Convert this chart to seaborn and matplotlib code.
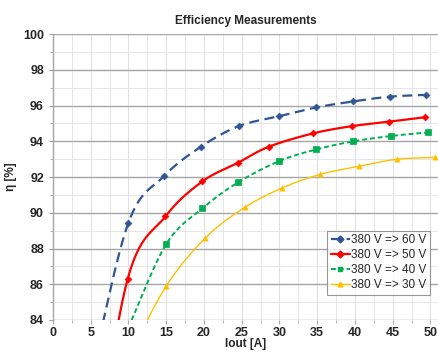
import numpy as np
import pandas as pd
import matplotlib
matplotlib.use("Agg")
import matplotlib.pyplot as plt
from matplotlib.lines import Line2D
from matplotlib.ticker import MultipleLocator
import seaborn as sns

# -------------------------------
# Data
# -------------------------------
iout_60 = [5.0, 10.0, 14.7, 19.6, 24.6, 29.9, 34.9, 39.7, 44.6, 49.4]
eta_60 = [80.9, 89.45, 92.05, 93.7, 94.85, 95.4, 95.9, 96.23, 96.5, 96.6]

iout_50 = [5.0, 9.9, 14.9, 19.8, 24.5, 28.6, 34.5, 39.6, 44.5, 49.3]
eta_50 = [74.5, 86.3, 89.8, 91.76, 92.8, 93.7, 94.45, 94.85, 95.1, 95.35]

iout_40 = [10.0, 15.0, 19.8, 24.5, 30.0, 34.9, 39.8, 44.8, 49.7]
eta_40 = [83.6, 88.25, 90.25, 91.7, 92.9, 93.55, 94.0, 94.3, 94.5]

iout_30 = [10.0, 15.0, 20.2, 25.4, 30.4, 35.4, 40.5, 45.6, 50.6]
eta_30 = [81.9, 85.9, 88.6, 90.3, 91.4, 92.15, 92.6, 93.0, 93.1]

labels = ["380 V => 60 V", "380 V => 50 V", "380 V => 40 V", "380 V => 30 V"]


def smooth(x, y, n=20):
    # Catmull-Rom curve through the points, like the spreadsheet "smoothed line"
    p = np.column_stack([x, y]).astype(float)
    p = np.vstack([2 * p[0] - p[1], p, 2 * p[-1] - p[-2]])
    out = []
    t = np.linspace(0, 1, n, endpoint=False)[:, None]
    for i in range(1, len(p) - 2):
        p0, p1, p2, p3 = p[i - 1], p[i], p[i + 1], p[i + 2]
        seg = 0.5 * ((2 * p1) + (-p0 + p2) * t
                     + (2 * p0 - 5 * p1 + 4 * p2 - p3) * t ** 2
                     + (-p0 + 3 * p1 - 3 * p2 + p3) * t ** 3)
        out.append(seg)
    out.append(p[-2][None, :])
    out = np.vstack(out)
    return out[:, 0], out[:, 1]


series = [
    (iout_60, eta_60, "#2F5597", (0, (4.5, 2.5)), 1.6, "D", 12),
    (iout_50, eta_50, "#FF0000", "-", 1.6, "D", 12),
    (iout_40, eta_40, "#00B050", (0, (2.5, 1.5)), 1.4, "s", 14),
    (iout_30, eta_30, "#FFC000", "-", 1.0, "^", 14),
]

sns.set_style("white")
plt.rcParams["font.family"] = ["Liberation Sans", "DejaVu Sans"]

fig = plt.figure(figsize=(4.38, 3.52), dpi=100)
ax = fig.add_axes([0.121, 0.091, 0.879, 0.812])

handles = []
for (xs, ys, color, ls, lw, mk, ms), lab in zip(series, labels):
    sx, sy = smooth(xs, ys)
    sns.lineplot(x=sx, y=sy, ax=ax, color=color, linestyle=ls, linewidth=lw,
                 sort=False, estimator=None, zorder=3)
    sns.scatterplot(x=xs, y=ys, ax=ax, color=color, marker=mk, s=ms,
                    edgecolor=color, linewidth=0.5, zorder=4)
    handles.append(Line2D([], [], color=color, linestyle=ls, linewidth=lw,
                          marker=mk, markersize=3.5))

ax.set_xlim(0, 51)
ax.set_ylim(84, 100)
ax.xaxis.set_major_locator(MultipleLocator(5))
ax.xaxis.set_minor_locator(MultipleLocator(2.5))
ax.yaxis.set_major_locator(MultipleLocator(2))
ax.yaxis.set_minor_locator(MultipleLocator(1))

ax.grid(which="major", axis="y", color="#A6A6A6", linewidth=1.0, zorder=0)
ax.grid(which="major", axis="x", color="#E0E0E0", linewidth=0.8, zorder=0)
ax.grid(which="minor", color="#E6E6E6", linewidth=0.7, zorder=0)
ax.set_axisbelow(True)

for side in ["top", "right", "bottom"]:
    ax.spines[side].set_visible(False)
ax.spines["left"].set_color("#A6A6A6")
ax.spines["left"].set_linewidth(1.0)

ax.tick_params(which="both", direction="out", length=3, color="#A6A6A6",
               left=True, bottom=True, labelsize=9)
ax.tick_params(which="minor", length=2)
ax.tick_params(axis="x", pad=2)
for lab in ax.get_xticklabels() + ax.get_yticklabels():
    lab.set_fontweight("bold")
ax.set_xticks([0, 5, 10, 15, 20, 25, 30, 35, 40, 45, 50])

ax.set_xlabel("Iout [A]", fontsize=8.5, fontweight="bold", labelpad=-1)
ax.set_ylabel("η [%]", fontsize=8.5, fontweight="bold", labelpad=4)
ax.set_title("Efficiency Measurements", fontsize=8.5, fontweight="bold", pad=7)

leg = ax.legend(handles, labels, loc="lower right", bbox_to_anchor=(0.985, 0.08),
                fontsize=8.5, frameon=True, fancybox=False, handlelength=1.6,
                handletextpad=0.1, borderpad=0.3, labelspacing=0.25,
                borderaxespad=0.2)
leg.get_frame().set_edgecolor("#7F7F7F")
leg.get_frame().set_linewidth(0.8)

fig.savefig("out.png", dpi=100)
